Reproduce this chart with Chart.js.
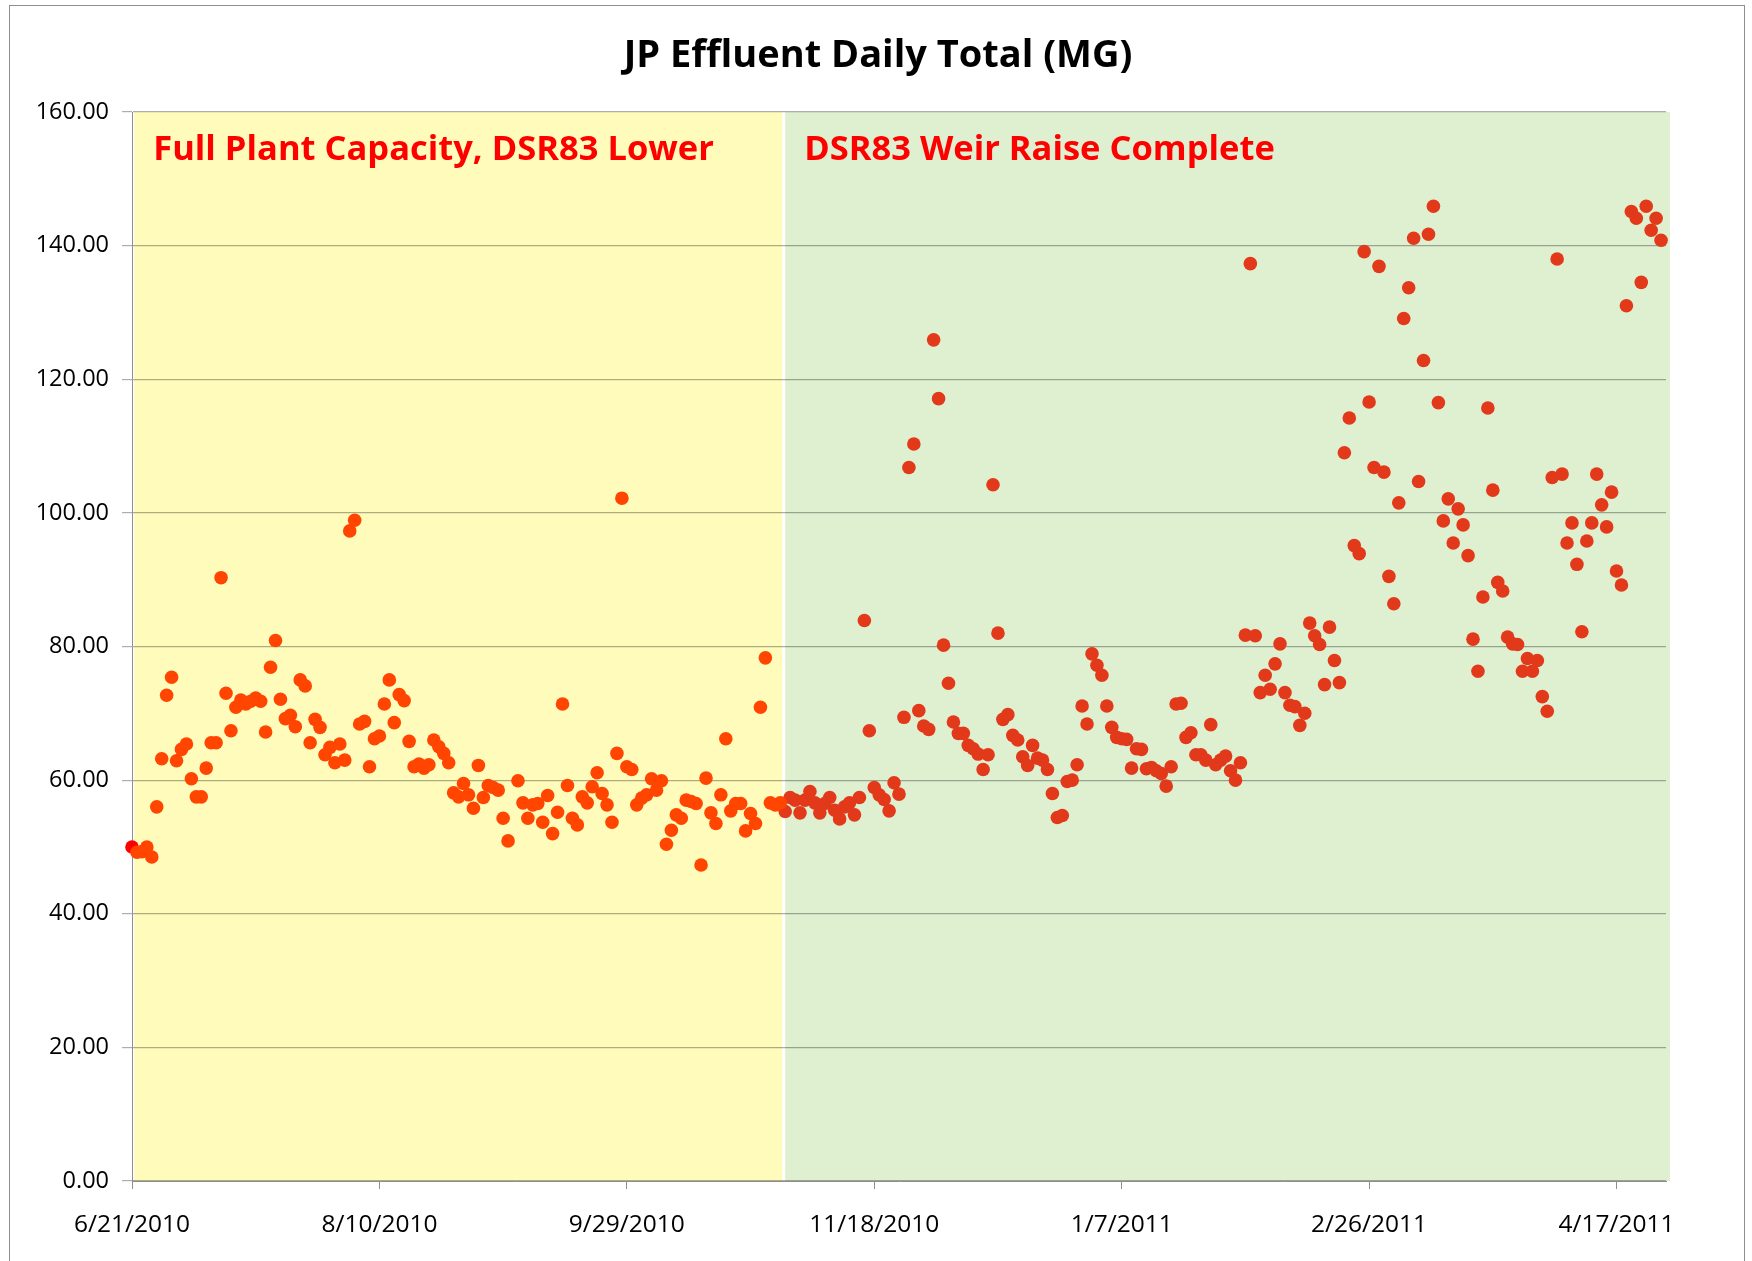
<!DOCTYPE html>
<html>
<head>
<meta charset="utf-8">
<title>JP Effluent Daily Total (MG)</title>
<script src="https://cdn.jsdelivr.net/npm/chart.js@4.4.1/dist/chart.umd.min.js"></script>
<style>
  html, body { margin: 0; padding: 0; background: #fff; }
  canvas { display: block; }
</style>
</head>
<body>
<canvas id="effluentChart" width="1752" height="1261"></canvas>
<script>
// x values are days counted from 6/21/2010
const xTickLabels = ['6/21/2010', '8/10/2010', '9/29/2010', '11/18/2010', '1/7/2011', '2/26/2011', '4/17/2011'];
const xTickStep = 50;
const yTickStep = 20;

const chartTitle = 'JP Effluent Daily Total (MG)';
const periodNames = ['Full Plant Capacity, DSR83 Lower', 'DSR83 Weir Raise Complete'];
const periodStarts = [0.45, 132.0];
const periodEnds = [131.4, 310.8];

// first reading, shown in pure red
const markerDays = [0];
const markerValues = [50.0];

// before the weir raise: days 1..131 (no reading on day 77)
const beforeStartDay = 1;
const beforeValues = [
  49.2, 49.3, 50.0, 48.5, 56.0, 63.2, 72.7, 75.4, 62.9, 64.6,
  65.4, 60.2, 57.5, 57.5, 61.8, 65.6, 65.6, 90.3, 73.0, 67.4,
  70.9, 72.0, 71.4, 71.8, 72.3, 71.8, 67.2, 76.9, 80.9, 72.1,
  69.2, 69.7, 68.0, 75.0, 74.1, 65.6, 69.1, 67.9, 63.8, 64.9,
  62.6, 65.4, 63.0, 97.3, 98.9, 68.4, 68.8, 62.0, 66.2, 66.6,
  71.4, 75.0, 68.6, 72.8, 71.9, 65.8, 62.0, 62.4, 61.8, 62.3,
  66.0, 65.0, 64.0, 62.6, 58.1, 57.5, 59.5, 57.8, 55.8, 62.2,
  57.4, 59.2, 58.9, 58.5, 54.3, 50.9, null, 59.9, 56.6, 54.3,
  56.3, 56.5, 53.7, 57.7, 52.0, 55.2, 71.4, 59.2, 54.3, 53.3,
  57.5, 56.6, 59.0, 61.1, 58.0, 56.3, 53.7, 64.0, 102.2, 62.0,
  61.6, 56.3, 57.3, 57.8, 60.2, 58.5, 59.9, 50.4, 52.5, 54.8,
  54.3, 57.0, 56.8, 56.5, 47.3, 60.3, 55.1, 53.5, 57.8, 66.2,
  55.4, 56.5, 56.5, 52.4, 55.0, 53.5, 70.9, 78.3, 56.6, 56.3,
  56.6
];

// after the weir raise: days 132..309
const afterStartDay = 132;
const afterValues = [
  55.3, 57.4, 57.0, 55.1, 57.0, 58.3, 56.6, 55.1,
  56.5, 57.4, 55.5, 54.2, 56.0, 56.6, 54.8, 57.4, 83.9, 67.4,
  58.9, 57.8, 57.1, 55.4, 59.6, 57.9, 69.4, 106.8, 110.3, 70.4,
  68.1, 67.6, 125.9, 117.1, 80.2, 74.5, 68.7, 67.0, 67.0, 65.2,
  64.7, 63.9, 61.6, 63.8, 104.2, 82.0, 69.1, 69.8, 66.7, 66.0,
  63.5, 62.2, 65.2, 63.3, 63.0, 61.6, 58.0, 54.4, 54.7, 59.8,
  60.0, 62.3, 71.1, 68.4, 78.9, 77.2, 75.7, 71.1, 67.9, 66.4,
  66.2, 66.1, 61.8, 64.7, 64.6, 61.7, 61.9, 61.4, 61.0, 59.1,
  62.0, 71.4, 71.5, 66.4, 67.1, 63.8, 63.8, 63.0, 68.3, 62.3,
  63.0, 63.6, 61.4, 60.0, 62.6, 81.7, 137.3, 81.6, 73.1, 75.7,
  73.6, 77.4, 80.4, 73.1, 71.2, 71.0, 68.2, 70.0, 83.5, 81.6,
  80.3, 74.3, 82.9, 77.9, 74.6, 109.0, 114.2, 95.1, 93.9, 139.1,
  116.6, 106.8, 136.9, 106.1, 90.5, 86.4, 101.5, 129.1, 133.7, 141.1,
  104.7, 122.8, 141.7, 145.9, 116.5, 98.8, 102.1, 95.5, 100.6, 98.2,
  93.6, 81.1, 76.3, 87.4, 115.7, 103.4, 89.6, 88.3, 81.4, 80.4,
  80.3, 76.3, 78.2, 76.3, 77.9, 72.5, 70.3, 105.3, 138.0, 105.8,
  95.5, 98.5, 92.3, 82.2, 95.8, 98.5, 105.8, 101.2, 97.9, 103.1,
  91.3, 89.2, 131.0, 145.1, 144.1, 134.5, 145.9, 142.3, 144.1, 140.8
];

const bandColors = ['#FFFCBB', '#DFF0D1'];
const fontFamily = "'Open Sans', 'DejaVu Sans', sans-serif";

function toPoints(startDay, values) {
  const pts = [];
  values.forEach((v, i) => {
    if (v !== null) pts.push({ x: startDay + i, y: v });
  });
  return pts;
}

// bands, title, period notes and the outer frame
const chartDecor = {
  id: 'chartDecor',
  beforeDraw(chart) {
    const { ctx, scales: { x, y } } = chart;
    ctx.save();
    ctx.fillStyle = '#fff';
    ctx.fillRect(0, 0, chart.width, chart.height);
    const top = y.getPixelForValue(y.max);
    const bottom = y.getPixelForValue(y.min);
    periodStarts.forEach((start, i) => {
      const left = x.getPixelForValue(start);
      const right = x.getPixelForValue(periodEnds[i]);
      ctx.fillStyle = bandColors[i];
      ctx.fillRect(left, top, right - left, bottom - top);
    });
    ctx.restore();
  },
  afterDraw(chart) {
    const { ctx, scales: { x, y } } = chart;
    ctx.save();
    // outer frame (open at the bottom, as in the source picture)
    ctx.strokeStyle = '#8e8e8e';
    ctx.lineWidth = 1;
    ctx.strokeRect(9.5, 5.5, 1735, 1400);

    ctx.fillStyle = '#000';
    ctx.font = 'bold 38px ' + fontFamily;
    ctx.textAlign = 'center';
    ctx.textBaseline = 'alphabetic';
    ctx.fillText(chartTitle, chart.width / 2 + 2, 67);

    ctx.fillStyle = '#FF0000';
    ctx.font = 'bold 34.5px ' + fontFamily;
    ctx.textAlign = 'left';
    periodNames.forEach((name, i) => {
      ctx.fillText(name, x.getPixelForValue(periodStarts[i]) + 19, y.top + 48);
    });
    ctx.restore();
  }
};

new Chart(document.getElementById('effluentChart').getContext('2d'), {
  type: 'scatter',
  data: {
    datasets: [
      {
        label: 'Before weir raise',
        data: toPoints(beforeStartDay, beforeValues),
        backgroundColor: '#FF4500',
        borderWidth: 0,
        pointRadius: 6.8,
        clip: false
      },
      {
        label: 'After weir raise',
        data: toPoints(afterStartDay, afterValues),
        backgroundColor: '#E2391B',
        borderWidth: 0,
        pointRadius: 6.8,
        clip: false
      },
      {
        label: 'First reading',
        data: markerDays.map((d, i) => ({ x: d, y: markerValues[i] })),
        backgroundColor: '#FF0000',
        borderWidth: 0,
        pointRadius: 6.8,
        clip: false
      }
    ]
  },
  options: {
    responsive: false,
    devicePixelRatio: 1,
    animation: false,
    events: [],
    layout: { padding: { top: 112, right: 86, bottom: 0, left: 0 } },
    plugins: {
      legend: { display: false },
      title: { display: false },
      tooltip: { enabled: false }
    },
    scales: {
      x: {
        type: 'linear',
        min: 0,
        max: 310,
        afterFit: (scale) => { scale.height = 80; },
        ticks: {
          stepSize: xTickStep,
          includeBounds: false,
          autoSkip: false,
          maxRotation: 0,
          padding: 21,
          color: '#000',
          font: { family: fontFamily, size: 24.5 },
          callback: (v) => xTickLabels[v / xTickStep] ?? ''
        },
        grid: {
          drawOnChartArea: false,
          drawTicks: true,
          tickLength: 8,
          color: '#8e8e8e'
        },
        border: { display: true, color: '#8e8e8e', width: 1 }
      },
      y: {
        min: 0,
        max: 160,
        afterFit: (scale) => { scale.width = 132; },
        ticks: {
          stepSize: yTickStep,
          padding: 13,
          color: '#000',
          font: { family: fontFamily, size: 23.5 },
          callback: (v) => v.toFixed(2)
        },
        grid: {
          color: 'rgba(0, 0, 0, 0.32)',
          tickLength: 10,
          lineWidth: 1.2
        },
        border: { display: true, color: '#8e8e8e', width: 1 }
      }
    }
  },
  plugins: [chartDecor]
});
</script>
</body>
</html>
